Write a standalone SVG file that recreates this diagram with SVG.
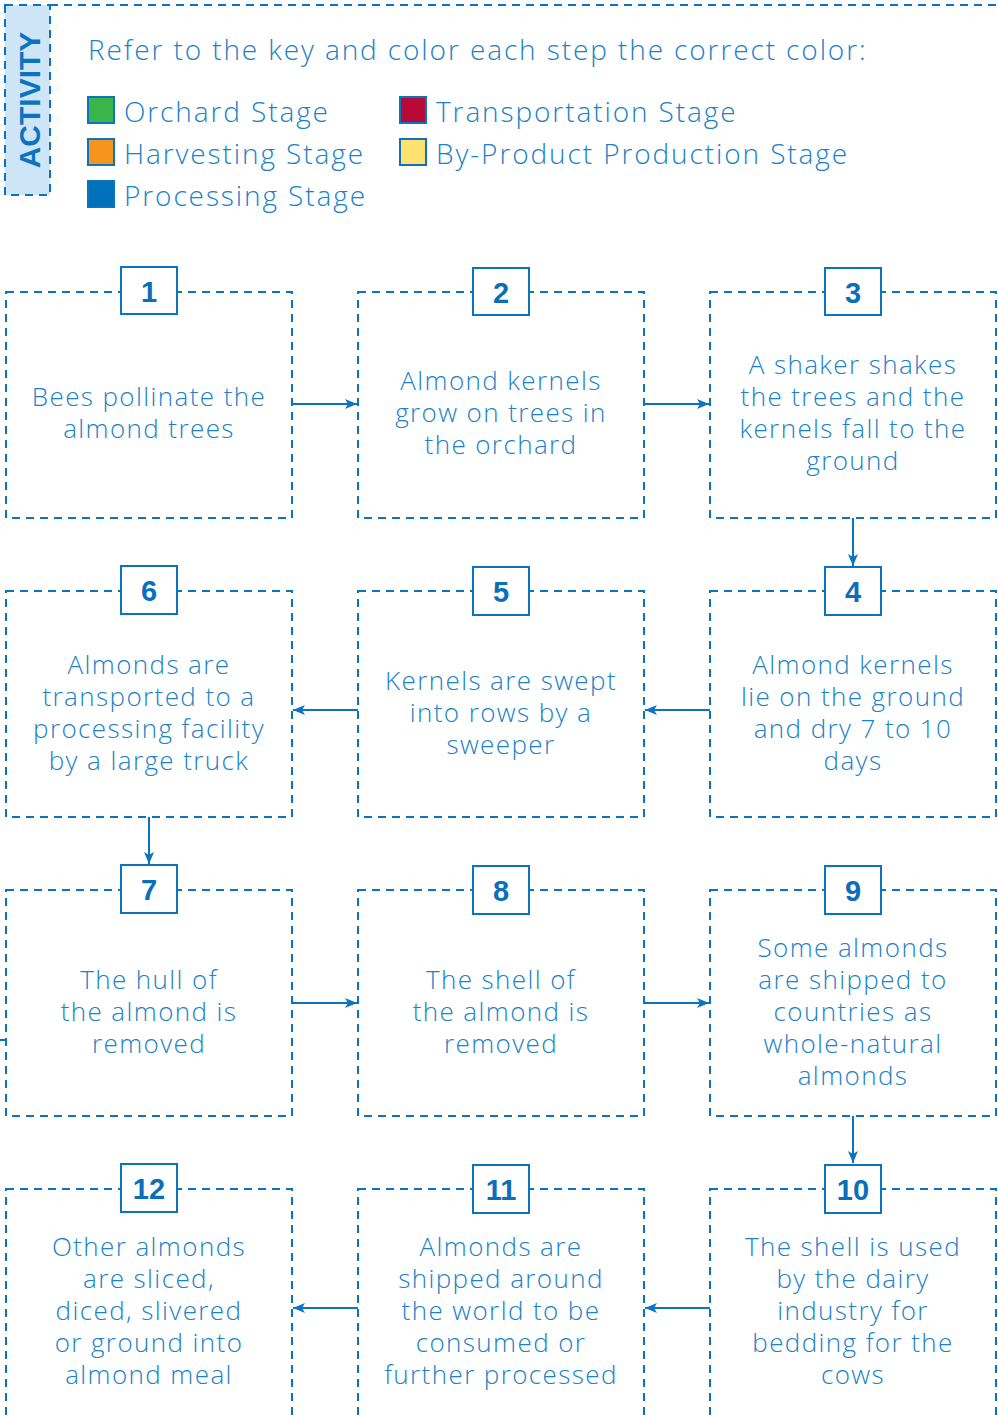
<svg xmlns="http://www.w3.org/2000/svg" width="998" height="1416" viewBox="0 0 998 1416">
<defs>
<style>
.frame{fill:none;stroke:#0a74bf;stroke-width:2;stroke-dasharray:8 6}
.nb{fill:#fff;stroke:#0a74bf;stroke-width:2}
.num{font-family:"Liberation Sans",Arial,sans-serif;font-weight:bold;font-size:29px;fill:#0a6fb8;text-anchor:middle}
.txt{font-family:"Open Sans","Noto Sans",sans-serif;font-weight:300;font-size:26px;letter-spacing:1.4px;fill:#2082c6;text-anchor:middle}
.head{font-family:"Open Sans","Noto Sans",sans-serif;font-weight:300;font-size:28px;letter-spacing:1.9px;fill:#2082c6}
.conn{stroke:#0a74bf;stroke-width:2;fill:none}
.sw{stroke:#0a74bf;stroke-width:2}
</style>
<marker id="ah" viewBox="0 0 12 10" refX="12" refY="5" markerWidth="12" markerHeight="10" markerUnits="userSpaceOnUse" orient="auto">
<path d="M0,0 L12,5 L0,10 L3,5 Z" fill="#0a74bf"/>
</marker>
</defs>
<rect width="998" height="1416" fill="#fff"/>

<g id="header">
<line x1="50" y1="5" x2="998" y2="5" class="frame"/>
<rect x="5" y="5" width="45" height="190" class="frame" style="fill:#cde5f7"/>
<text x="0" y="0" transform="translate(40,100) rotate(-90)" font-family="Liberation Sans,Arial,sans-serif" font-weight="bold" font-size="30" fill="#0a74bf" text-anchor="middle">ACTIVITY</text>
<text x="88" y="60" class="head">Refer to the key and color each step the correct color:</text>
</g>

<g id="legend">
<rect x="88" y="97" width="26" height="26" fill="#39b54a" class="sw"/>
<text x="124" y="122" class="head">Orchard Stage</text>
<rect x="88" y="139" width="26" height="26" fill="#f7941d" class="sw"/>
<text x="124" y="164" class="head">Harvesting Stage</text>
<rect x="88" y="181" width="26" height="26" fill="#0072bc" class="sw"/>
<text x="124" y="206" class="head">Processing Stage</text>
<rect x="400" y="97" width="26" height="26" fill="#b70a37" class="sw"/>
<text x="436" y="122" class="head">Transportation Stage</text>
<rect x="400" y="139" width="26" height="26" fill="#ffe270" class="sw"/>
<text x="436" y="164" class="head">By-Product Production Stage</text>
</g>

<g id="connectors">
<line x1="292" y1="404" x2="357" y2="404" class="conn" marker-end="url(#ah)"/>
<line x1="644" y1="404" x2="709" y2="404" class="conn" marker-end="url(#ah)"/>
<line x1="853" y1="518" x2="853" y2="566" class="conn" marker-end="url(#ah)"/>
<line x1="710" y1="710" x2="645" y2="710" class="conn" marker-end="url(#ah)"/>
<line x1="358" y1="710" x2="293" y2="710" class="conn" marker-end="url(#ah)"/>
<line x1="149" y1="817" x2="149" y2="864" class="conn" marker-end="url(#ah)"/>
<line x1="292" y1="1003" x2="357" y2="1003" class="conn" marker-end="url(#ah)"/>
<line x1="644" y1="1003" x2="709" y2="1003" class="conn" marker-end="url(#ah)"/>
<line x1="853" y1="1116" x2="853" y2="1163" class="conn" marker-end="url(#ah)"/>
<line x1="710" y1="1308" x2="645" y2="1308" class="conn" marker-end="url(#ah)"/>
<line x1="358" y1="1308" x2="293" y2="1308" class="conn" marker-end="url(#ah)"/>
<line x1="0" y1="1040" x2="6" y2="1040" class="conn"/>
</g>

<g id="step1">
<rect x="6" y="292" width="286" height="226" class="frame"/>
<rect x="121" y="267" width="56" height="47" class="nb"/>
<text x="149" y="302" class="num">1</text>
<text class="txt"><tspan x="149" y="406">Bees pollinate the</tspan><tspan x="149" y="438">almond trees</tspan></text>
</g>
<g id="step2">
<rect x="358" y="292" width="286" height="226" class="frame"/>
<rect x="473" y="268" width="56" height="47" class="nb"/>
<text x="501" y="303" class="num">2</text>
<text class="txt"><tspan x="501" y="390">Almond kernels</tspan><tspan x="501" y="422">grow on trees in</tspan><tspan x="501" y="454">the orchard</tspan></text>
</g>
<g id="step3">
<rect x="710" y="292" width="286" height="226" class="frame"/>
<rect x="825" y="268" width="56" height="47" class="nb"/>
<text x="853" y="303" class="num">3</text>
<text class="txt"><tspan x="853" y="374">A shaker shakes</tspan><tspan x="853" y="406">the trees and the</tspan><tspan x="853" y="438">kernels fall to the</tspan><tspan x="853" y="470">ground</tspan></text>
</g>

<g id="step4">
<rect x="710" y="591" width="286" height="226" class="frame"/>
<rect x="825" y="567" width="56" height="48" class="nb"/>
<text x="853" y="602" class="num">4</text>
<text class="txt"><tspan x="853" y="674">Almond kernels</tspan><tspan x="853" y="706">lie on the ground</tspan><tspan x="853" y="738">and dry 7 to 10</tspan><tspan x="853" y="770">days</tspan></text>
</g>
<g id="step5">
<rect x="358" y="591" width="286" height="226" class="frame"/>
<rect x="473" y="567" width="56" height="48" class="nb"/>
<text x="501" y="602" class="num">5</text>
<text class="txt"><tspan x="501" y="690">Kernels are swept</tspan><tspan x="501" y="722">into rows by a</tspan><tspan x="501" y="754">sweeper</tspan></text>
</g>
<g id="step6">
<rect x="6" y="591" width="286" height="226" class="frame"/>
<rect x="121" y="566" width="56" height="48" class="nb"/>
<text x="149" y="601" class="num">6</text>
<text class="txt"><tspan x="149" y="674">Almonds are</tspan><tspan x="149" y="706">transported to a</tspan><tspan x="149" y="738">processing facility</tspan><tspan x="149" y="770">by a large truck</tspan></text>
</g>

<g id="step7">
<rect x="6" y="890" width="286" height="226" class="frame"/>
<rect x="121" y="865" width="56" height="48" class="nb"/>
<text x="149" y="900" class="num">7</text>
<text class="txt"><tspan x="149" y="989">The hull of</tspan><tspan x="149" y="1021">the almond is</tspan><tspan x="149" y="1053">removed</tspan></text>
</g>
<g id="step8">
<rect x="358" y="890" width="286" height="226" class="frame"/>
<rect x="473" y="866" width="56" height="48" class="nb"/>
<text x="501" y="901" class="num">8</text>
<text class="txt"><tspan x="501" y="989">The shell of</tspan><tspan x="501" y="1021">the almond is</tspan><tspan x="501" y="1053">removed</tspan></text>
</g>
<g id="step9">
<rect x="710" y="890" width="286" height="226" class="frame"/>
<rect x="825" y="866" width="56" height="48" class="nb"/>
<text x="853" y="901" class="num">9</text>
<text class="txt"><tspan x="853" y="957">Some almonds</tspan><tspan x="853" y="989">are shipped to</tspan><tspan x="853" y="1021">countries as</tspan><tspan x="853" y="1053">whole-natural</tspan><tspan x="853" y="1085">almonds</tspan></text>
</g>

<g id="step10">
<rect x="710" y="1189" width="286" height="240" class="frame"/>
<rect x="825" y="1165" width="56" height="48" class="nb"/>
<text x="853" y="1200" class="num">10</text>
<text class="txt"><tspan x="853" y="1256">The shell is used</tspan><tspan x="853" y="1288">by the dairy</tspan><tspan x="853" y="1320">industry for</tspan><tspan x="853" y="1352">bedding for the</tspan><tspan x="853" y="1384">cows</tspan></text>
</g>
<g id="step11">
<rect x="358" y="1189" width="286" height="240" class="frame"/>
<rect x="473" y="1165" width="56" height="48" class="nb"/>
<text x="501" y="1200" class="num">11</text>
<text class="txt"><tspan x="501" y="1256">Almonds are</tspan><tspan x="501" y="1288">shipped around</tspan><tspan x="501" y="1320">the world to be</tspan><tspan x="501" y="1352">consumed or</tspan><tspan x="501" y="1384">further processed</tspan></text>
</g>
<g id="step12">
<rect x="6" y="1189" width="286" height="240" class="frame"/>
<rect x="121" y="1164" width="56" height="48" class="nb"/>
<text x="149" y="1199" class="num">12</text>
<text class="txt"><tspan x="149" y="1256">Other almonds</tspan><tspan x="149" y="1288">are sliced,</tspan><tspan x="149" y="1320">diced, slivered</tspan><tspan x="149" y="1352">or ground into</tspan><tspan x="149" y="1384">almond meal</tspan></text>
</g>
</svg>
